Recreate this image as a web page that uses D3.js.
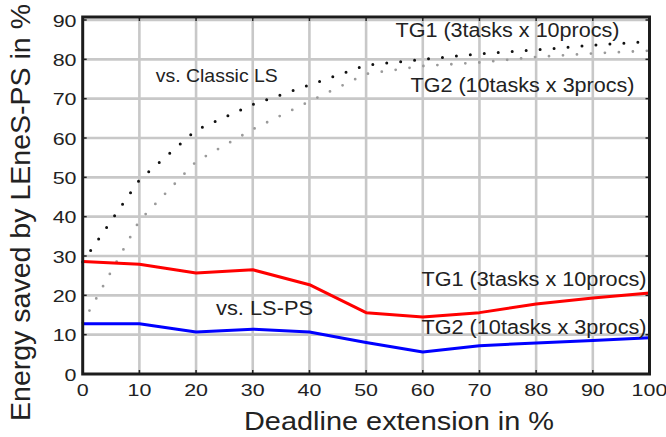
<!DOCTYPE html>
<html>
<head>
<meta charset="utf-8">
<script src="https://cdn.jsdelivr.net/npm/d3@7"></script>
<style>
  html, body { margin: 0; padding: 0; background: #fff; }
  svg { display: block; font-family: "Liberation Sans", Arial, Helvetica, sans-serif; }
</style>
</head>
<body>
<svg id="chart" width="666" height="437"></svg>
<script>
// Deadline extension (%) on the x axis
const deadlineExt = [0, 10, 20, 30, 40, 50, 60, 70, 80, 90, 100];

// Energy saved by LEneS-PS (%) compared with Classic LS
const tg1VsClassicLS = [28.5, 49.3, 62.0, 68.5, 73.5, 78.5, 80.0, 81.4, 82.4, 83.6, 84.5];
const tg2VsClassicLS = [13.0, 39.0, 54.0, 62.2, 69.3, 76.3, 78.3, 79.2, 80.6, 81.5, 82.2];

// Energy saved by LEneS-PS (%) compared with LS-PS
const tg1VsLSPS = [28.6, 27.9, 25.7, 26.5, 22.7, 15.6, 14.5, 15.6, 17.8, 19.3, 20.6];
const tg2VsLSPS = [12.8, 12.8, 10.7, 11.4, 10.7, 8.0, 5.6, 7.2, 7.9, 8.5, 9.2];

const xTicks = [0, 10, 20, 30, 40, 50, 60, 70, 80, 90, 100];
const yTicks = [0, 10, 20, 30, 40, 50, 60, 70, 80, 90];

const svg = d3.select("#chart");

const x = d3.scaleLinear().domain([0, 100]).range([82.7, 649.5]);
const y = d3.scaleLinear().domain([0, 90]).range([374, 20]);

const [x0, x1] = x.range();
const yBottom = y.range()[0];
const yTop = y.range()[1] - 3;

// grid
const grid = svg.append("g").attr("stroke", "#c8c8c8").attr("stroke-width", 2.6);
grid.selectAll("line.v").data(xTicks.slice(1, -1)).join("line")
  .attr("x1", d => x(d)).attr("x2", d => x(d))
  .attr("y1", yTop).attr("y2", yBottom);
grid.selectAll("line.h").data(yTicks.slice(1)).join("line")
  .attr("x1", x0).attr("x2", x1)
  .attr("y1", d => y(d)).attr("y2", d => y(d));

// inward tick marks on all four sides
const ticks = svg.append("g").attr("stroke", "#222").attr("stroke-width", 1.5);
yTicks.forEach(v => {
  ticks.append("line").attr("x1", x0).attr("x2", x0 + 4).attr("y1", y(v)).attr("y2", y(v));
  ticks.append("line").attr("x1", x1).attr("x2", x1 - 4).attr("y1", y(v)).attr("y2", y(v));
});
xTicks.forEach(v => {
  ticks.append("line").attr("x1", x(v)).attr("x2", x(v)).attr("y1", yBottom).attr("y2", yBottom - 4);
  ticks.append("line").attr("x1", x(v)).attr("x2", x(v)).attr("y1", yTop).attr("y2", yTop + 4);
});

// series
const line = d3.line().x(d => x(d[0])).y(d => y(d[1]));
const pairs = vals => deadlineExt.map((d, i) => [d, vals[i]]);

svg.append("path").datum(pairs(tg2VsClassicLS))
  .attr("fill", "none").attr("stroke", "#9a9a9a").attr("stroke-width", 2.8)
  .attr("stroke-linecap", "round").attr("stroke-dasharray", "0,14")
  .attr("d", line);
svg.append("path").datum(pairs(tg1VsClassicLS))
  .attr("fill", "none").attr("stroke", "#111").attr("stroke-width", 3)
  .attr("stroke-linecap", "round").attr("stroke-dasharray", "0,14")
  .attr("d", line);
svg.append("path").datum(pairs(tg1VsLSPS))
  .attr("fill", "none").attr("stroke", "#ff0000").attr("stroke-width", 3)
  .attr("stroke-linejoin", "round").attr("d", line);
svg.append("path").datum(pairs(tg2VsLSPS))
  .attr("fill", "none").attr("stroke", "#0000ff").attr("stroke-width", 3)
  .attr("stroke-linejoin", "round").attr("d", line);

// frame
svg.append("rect")
  .attr("x", x0).attr("y", yTop)
  .attr("width", x1 - x0).attr("height", yBottom - yTop)
  .attr("fill", "none").attr("stroke", "#1c1c1c").attr("stroke-width", 3);

// tick labels (slightly wide glyphs)
function wideText(g, tx, ty, str, size, sx, anchor) {
  return g.append("text")
    .attr("transform", `translate(${tx},${ty}) scale(${sx},1)`)
    .attr("text-anchor", anchor)
    .attr("font-size", size)
    .attr("fill", "#222")
    .text(str);
}
const labels = svg.append("g");
yTicks.forEach(v => wideText(labels, 76.5, y(v) + 6.5, String(v), 16.5, 1.3, "end"));
xTicks.forEach(v => wideText(labels, x(v), 395.7, String(v), 16.5, 1.3, "middle"));

// annotations
function fitText(str, tx, ty, size, len) {
  return svg.append("text")
    .attr("x", tx).attr("y", ty)
    .attr("font-size", size).attr("fill", "#222")
    .attr("textLength", len).attr("lengthAdjust", "spacingAndGlyphs")
    .text(str);
}
fitText("vs. Classic LS", 155.8, 81.7, 19, 122);
fitText("TG1 (3tasks x 10procs)", 395.5, 36.7, 20.5, 224);
fitText("TG2 (10tasks x 3procs)", 410.5, 91.7, 21, 224);
fitText("vs. LS-PS", 216, 315, 20, 97);
fitText("TG1 (3tasks x 10procs)", 421.5, 286, 20, 225);
fitText("TG2 (10tasks x 3procs)", 421.5, 334, 20, 225);

// axis titles
fitText("Deadline extension in %", 244, 430, 25.5, 310);
svg.append("text")
  .attr("transform", "translate(30,421) rotate(-90)")
  .attr("font-size", 28).attr("fill", "#222")
  .attr("textLength", 417).attr("lengthAdjust", "spacingAndGlyphs")
  .text("Energy saved by LEneS-PS in %");
</script>
</body>
</html>
